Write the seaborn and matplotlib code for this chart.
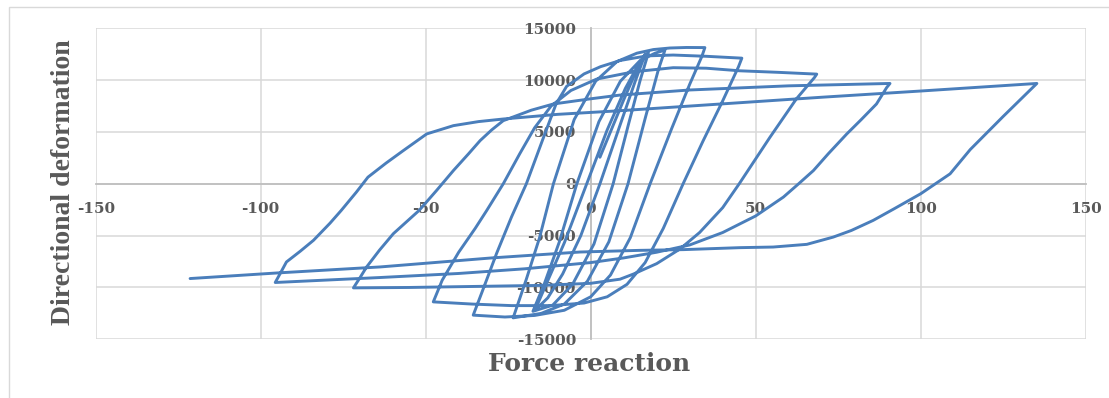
import matplotlib
matplotlib.use("Agg")
import matplotlib.pyplot as plt
import pandas as pd
import seaborn as sns
from matplotlib.patches import Rectangle

# Cyclic response, one half-cycle per branch: (force reaction, directional deformation)
start_to_p1 = ([2.8, 6.5, 10.0, 13.0, 15.3, 16.5],
               [2560, 5400, 8100, 10300, 11800, 12500])
p1_to_n1 = ([16.5, 13.5, 8.5, 2.8, -3.0, -8.5, -13.0, -16.9],
            [12500, 9900, 5300, 0, -5000, -8700, -11000, -12200])
n1_to_p1b = ([-16.9, -13.5, -8.0, -1.2, 5.0, 10.5, 14.8, 17.5],
             [-12200, -9700, -5700, 0, 5200, 9200, 11700, 12650])
p1b_to_n1b = ([17.5, 15.0, 11.5, 6.8, 1.0, -5.5, -11.5, -17.5],
              [12650, 10000, 5800, 0, -5800, -9700, -11700, -12300])
n1b_to_p2 = ([-17.5, -14.0, -9.5, -4.2, 2.5, 9.0, 15.0, 19.5, 22.5],
             [-12300, -9600, -5600, 0, 6000, 9900, 11900, 12600, 12900])
p2_to_n2 = ([22.5, 20.5, 16.5, 11.3, 5.5, -1.0, -8.0, -15.0, -23.5],
            [12900, 11000, 6300, 0, -5600, -9400, -11600, -12500, -12930])
n2_to_p3 = ([-23.5, -19.5, -15.5, -11.3, -5.0, 1.5, 8.0, 14.0, 19.0, 24.0, 29.0, 34.6],
            [-12930, -9200, -5200, 0, 6200, 9900, 11800, 12600, 12950, 13100, 13150, 13140])
p3_to_n3 = ([34.6, 33.7, 30.0, 24.5, 18.0, 12.0, 6.0, 0.0, -8.0, -17.0, -26.0, -35.6],
            [13140, 12300, 9600, 5300, 0, -5200, -8800, -10900, -12200, -12700, -12850, -12670])
n3_to_p4 = ([-35.6, -33.0, -28.5, -24.0, -19.5, -14.5, -10.5, -7.3, -2.0, 3.0, 9.0, 17.0, 25.0, 35.0, 45.8],
            [-12670, -10500, -6700, -3200, 0, 4300, 7700, 9400, 10600, 11300, 11900, 12340, 12420, 12300, 12120])
p4_to_n4 = ([45.8, 44.8, 40.0, 34.0, 28.0, 22.0, 16.5, 11.0, 5.0, -2.0, -12.0, -24.0, -36.0, -47.7],
            [12120, 11300, 8000, 4100, 0, -4300, -7600, -9700, -10900, -11500, -11750, -11750, -11600, -11390])
n4_to_p5 = ([-47.7, -45.0, -40.0, -35.0, -31.5, -26.5, -21.5, -17.0, -12.0, -6.0, 1.8, 12.9, 25.0, 35.0, 45.2, 57.0, 68.5],
            [-11390, -9300, -6600, -4300, -2570, 0, 2900, 5400, 7500, 9000, 10100, 10800, 11200, 11150, 10900, 10750, 10580])
p5_to_n5 = ([68.5, 67.8, 62.3, 54.3, 45.0, 40.0, 33.0, 27.0, 20.0, 13.0, 8.9, 0.0, -15.0, -35.0, -55.0, -71.9],
            [10580, 10250, 8180, 4480, 0, -2300, -4700, -6300, -7700, -8700, -9200, -9600, -9800, -9900, -10000, -10040])
n5_to_p6 = ([-71.9, -70.0, -67.9, -64.0, -59.8, -52.0, -46.7, -41.6, -37.0, -33.5, -30.0, -26.5, -18.0, -11.3, 0.0, 8.9, 30.0, 60.0, 90.7],
            [-10040, -9100, -8020, -6400, -4810, -2570, -640, 1280, 2900, 4170, 5200, 6090, 7100, 7700, 8200, 8560, 9050, 9450, 9680])
p6_to_n6 = ([90.7, 89.7, 86.6, 82.0, 77.6, 72.0, 67.5, 63.0, 58.4, 50.0, 40.0, 30.0, 20.0, 10.0, 0.0, -20.0, -40.0, -63.8, -80.0, -95.6],
            [9680, 9290, 7700, 6200, 4810, 2900, 1280, 0, -1280, -3100, -4700, -5900, -6600, -7150, -7600, -8200, -8650, -9040, -9280, -9520])
n6_to_p7 = ([-95.6, -94.0, -92.2, -88.0, -84.0, -79.0, -75.6, -71.0, -67.5, -62.0, -56.8, -49.7, -41.6, -34.0, -26.5, -10.0, 8.9, 30.0, 70.0, 100.0, 135.2],
            [-9520, -8600, -7540, -6500, -5450, -3800, -2570, -800, 640, 2000, 3200, 4810, 5610, 6000, 6250, 6700, 7050, 7500, 8350, 8950, 9680])
p7_to_end = ([135.2, 125.0, 115.0, 108.9, 100.0, 92.0, 85.6, 79.0, 73.5, 65.5, 55.3, 45.2, 28.1, 14.9, -3.2, -30.0, -63.8, -95.0, -121.4],
             [9680, 6500, 3300, 960, -960, -2400, -3530, -4500, -5140, -5840, -6100, -6160, -6350, -6420, -6580, -7150, -8020, -8600, -9140])

branches = [start_to_p1, p1_to_n1, n1_to_p1b, p1b_to_n1b, n1b_to_p2, p2_to_n2,
            n2_to_p3, p3_to_n3, n3_to_p4, p4_to_n4, n4_to_p5, p5_to_n5,
            n5_to_p6, p6_to_n6, n6_to_p7, p7_to_end]

x_ticks = [-150, -100, -50, 0, 50, 100, 150]
y_ticks = [-15000, -10000, -5000, 0, 5000, 10000, 15000]

# join the branches into one continuous loading path
rows = []
for bx, by in branches:
    pts = list(zip(bx, by))
    if rows:
        pts = pts[1:]
    rows.extend(pts)
df = pd.DataFrame(rows, columns=["reaction", "deformation"])
df["step"] = range(len(df))

sns.set_theme(style="white")
plt.rcParams["font.family"] = ["DejaVu Serif", "DejaVu Sans"]

W, H = 1109, 398
fig = plt.figure(figsize=(W / 100, H / 100), dpi=100)
left, right, top, bottom = 95.7, 1085.7, 28.3, 339.3
ax = fig.add_axes([left / W, 1 - bottom / H, (right - left) / W, (bottom - top) / H])

sns.lineplot(data=df, x="reaction", y="deformation", sort=False, estimator=None,
             color="#4a7ebb", linewidth=2.1, ax=ax, zorder=3)

ax.set_xlim(-150, 150)
ax.set_ylim(-15000, 15000)
ax.set_xticks(x_ticks)
ax.set_yticks(y_ticks)
ax.set_xticklabels([str(v) for v in x_ticks])
ax.set_yticklabels([str(v) for v in y_ticks])
ax.set_xlabel("")
ax.set_ylabel("")

ax.grid(True, color="#d9d9d9", linewidth=1.1)
ax.set_axisbelow(True)
for gl in ax.xaxis.get_gridlines() + ax.yaxis.get_gridlines():
    gl.set_clip_on(False)

for s in ["top", "right"]:
    ax.spines[s].set_visible(False)
ax.spines["left"].set_position(("data", 0))
ax.spines["bottom"].set_position(("data", 0))
for s in ["left", "bottom"]:
    ax.spines[s].set_color("#bfbfbf")
    ax.spines[s].set_linewidth(1.3)
    ax.spines[s].set_zorder(2)

ax.tick_params(axis="x", length=0, pad=12.8)
ax.tick_params(axis="y", length=0, pad=10.5)
for lbl in ax.get_xticklabels() + ax.get_yticklabels():
    lbl.set_fontfamily("DejaVu Serif")
    lbl.set_fontweight("bold")
    lbl.set_fontsize(11)
    lbl.set_color("#595959")

fig.text(589.5 / W, 1 - 364 / H, "Force reaction", ha="center", va="center",
         fontsize=18, fontfamily="DejaVu Serif", fontweight="bold", color="#595959")
fig.text(63.5 / W, 1 - 182.5 / H, "Directional deformation", rotation=90,
         ha="center", va="center", fontsize=20, fontfamily="Liberation Serif",
         fontweight="bold", color="#595959")

# chart-area frame
fig.add_artist(Rectangle((8.5 / W, -0.1), 1.2, 1.1 - 7 / H, transform=fig.transFigure,
                         fill=False, edgecolor="#d9d9d9", linewidth=1.0))

fig.savefig("out.png", dpi=100)
